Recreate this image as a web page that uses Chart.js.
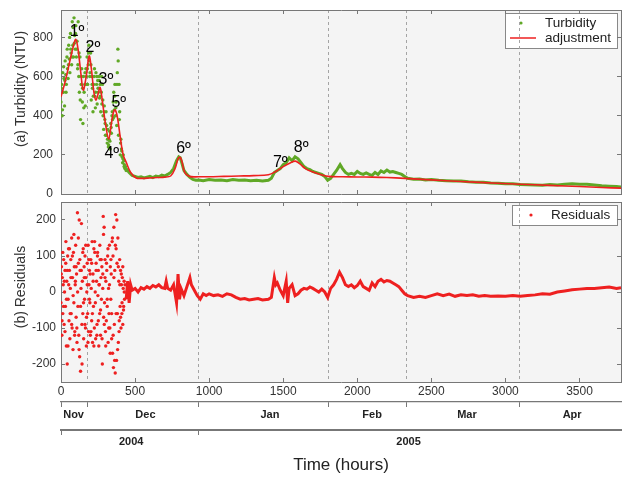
<!DOCTYPE html>
<html>
<head>
<meta charset="utf-8">
<script src="https://cdn.jsdelivr.net/npm/chart.js@4"></script>
<style>
  body { margin: 0; background: #fff; }
  #wrap { position: relative; width: 625px; height: 477px; }
  #topChart { position: absolute; left: 0; top: 0; }
  #bottomChart { position: absolute; left: 0; top: 196px; }
</style>
</head>
<body>
<div id="wrap">
  <canvas id="topChart" width="625" height="200"></canvas>
  <canvas id="bottomChart" width="625" height="281"></canvas>
</div>
<script>
// hours axis range and tick values
const xMin = 0, xMax = 3780;
const hourTicks = [0, 500, 1000, 1500, 2000, 2500, 3000, 3500];
const turbTicks = [0, 200, 400, 600, 800];
const resTicks = [-200, -100, 0, 100, 200];

// month / year bands under the time axis
const monthNames = ["Nov", "Dec", "Jan", "Feb", "Mar", "Apr"];
const monthLabelHours = [85, 570, 1410, 2100, 2740, 3450];
const monthStartHours = [0, 181, 926, 1805, 2329, 3094];
const yearNames = ["2004", "2005"];
const yearLabelHours = [474, 2346];
const yearStartHours = [0, 926];

// turbidity, noisy first weeks (dots)
const turbScatterHours = [0,4,8,12,16,20,24,28,32,36,40,44,48,52,56,60,64,68,72,76,80,84,88,92,96,100,104,108,112,116,
  120,124,128,132,136,140,144,148,152,156,160,164,168,172,176,180,184,188,192,196,200,204,208,212,216,220,224,228,232,236,
  240,244,248,252,256,260,264,268,272,276,280,284,288,292,296,300,304,308,312,316,320,324,328,332,336,340,344,348,352,356,
  360,364,368,372,376,380,384,388,392,396,400,404,408,412,416,420,424,428,432,436,440];
const turbScatterValues = [470,560,400,620,520,590,450,680,610,560,700,640,590,760,690,620,820,720,660,880,
  760,700,900,810,740,860,700,780,640,880,600,520,700,380,560,640,470,360,600,520,
  560,450,640,600,700,560,660,760,680,620,720,480,600,540,420,560,600,500,440,620,
  560,460,580,520,600,490,560,420,520,460,560,400,330,450,380,300,420,350,260,330,
  240,280,320,230,360,310,400,380,470,520,430,560,400,470,350,620,740,300,560,420,
  200,280,230,190,160,200,170,150,130,140,120];
const turbScatter2Hours = [2,10,18,26,34,42,50,58,66,74,82,90,98,106,114,122,130,138,146,154,162,170,178,186,194,202,210,
  218,226,234,242,250,258,266,274,282,290,298,306,314,322,330,338,346,354,362,370,378,386,394,402,410,418,426,434];
const turbScatter2Values = [540,430,650,580,520,740,660,800,740,700,850,770,820,740,660,720,480,600,540,440,620,560,640,720,600,660,560,
  500,640,520,600,540,580,500,600,480,420,360,300,280,250,270,340,420,390,500,440,560,680,380,260,220,180,140,130];

// turbidity, dense record afterwards (drawn as a thick trace)
const turbLineHours = [440,460,480,500,520,540,560,580,600,620,640,660,680,700,720,740,760,780,795,805,815,830,850,870,890,910,930,960,
  1000,1040,1080,1120,1160,1200,1240,1280,1320,1360,1400,1420,1440,1460,1480,1500,1520,1540,1560,1580,1600,1620,1640,1660,1680,1700,
  1720,1740,1760,1780,1800,1820,1840,1860,1884,1900,1920,1940,1960,1980,2000,2020,2040,2060,2080,2100,2120,2140,2160,2180,2200,2220,
  2240,2260,2280,2300,2320,2340,2380,2420,2460,2500,2550,2600,2650,2700,2750,2800,2850,2900,2950,3000,3050,3100,3150,3200,3250,3300,
  3350,3400,3450,3500,3550,3600,3650,3700,3750,3780];
const turbLineValues = [130,110,95,90,85,88,82,86,90,84,92,88,96,92,100,110,130,170,190,185,160,120,100,85,75,70,72,68,
  74,70,72,68,74,70,72,68,70,66,70,80,110,120,130,150,160,185,170,190,180,160,140,130,125,115,
  110,105,100,90,70,80,100,120,150,130,110,100,105,100,115,105,100,108,100,95,110,100,118,110,122,112,
  115,110,105,100,90,80,75,76,72,74,70,68,66,66,62,60,60,56,55,52,52,48,47,46,45,48,
  46,50,52,50,50,46,42,40,38,36];

// fitted adjustment
const adjHours = [0,30,60,85,100,115,135,150,170,190,205,222,235,250,264,280,300,322,340,355,365,380,400,420,441,470,508,
  550,600,650,700,740,770,790,803,815,835,866,930,1000,1100,1200,1300,1400,1450,1500,1550,1582,1610,1650,1700,1750,1805,
  1900,2000,2100,2200,2320,2500,2700,2946,3100,3300,3500,3650,3780];
const adjValues = [497,580,680,760,790,740,610,530,600,705,640,520,480,510,545,470,360,280,360,420,430,395,290,200,160,110,82,
  80,82,84,86,92,130,180,188,170,110,90,88,88,90,92,94,98,115,140,160,168,155,130,112,100,90,
  88,87,86,84,80,72,64,55,50,44,38,33,30];

// peak numbering
const peakNames = ["1º", "2º", "3º", "4º", "5º", "6º", "7º", "8º"];
const peakHours = [108, 215, 303, 343, 390, 827, 1480, 1621];
const peakValues = [831, 749, 585, 205, 467, 231, 159, 236];

// residuals, noisy first weeks (dots)
const resScatterHours = [0,3,6,9,12,15,18,21,24,27,30,33,36,39,42,45,48,51,54,57,60,63,66,69,72,75,78,81,84,87,
  90,93,96,99,102,105,108,111,114,117,120,123,126,129,132,135,138,141,144,147,150,153,156,159,162,165,168,171,174,177,
  180,183,186,189,192,195,198,201,204,207,210,213,216,219,222,225,228,231,234,237,240,243,246,249,252,255,258,261,264,267,
  270,273,276,279,282,285,288,291,294,297,300,303,306,309,312,315,318,321,324,327,330,333,336,339,342,345,348,351,354,357,
  360,363,366,369,372,375,378,381,384,387,390,393,396,399,402,405,408,411,414,417,420,423,426,429,432];
const resScatterValues = [-30,70,-120,40,-60,20,90,-90,0,60,-40,140,-150,30,-200,100,-20,120,-80,60,
  -130,10,90,-60,150,-100,40,-160,110,-30,70,-110,20,130,-70,50,-140,220,-40,80,
  -120,200,-180,60,-220,10,190,-90,30,-60,120,-130,70,-20,100,-100,40,-150,0,80,
  -60,130,-110,20,60,-30,-120,90,10,-80,140,-140,50,-40,120,-100,110,0,-130,80,
  30,-90,100,-10,60,-150,20,-60,90,-120,40,-20,70,-200,50,210,-70,180,-30,90,
  -110,30,-80,60,-40,100,-140,10,-60,130,-100,70,-20,50,-130,140,-170,100,-210,180,
  -90,60,-225,215,120,-190,80,-60,150,-140,30,-80,90,-40,60,-100,20,-60,40,-90,
  10,-40,30,-20,20];
const resScatter2Hours = [2,7,12,17,22,27,32,37,42,47,52,57,62,67,72,77,82,87,92,97,102,107,112,117,122,127,132,137,142,147,
  152,157,162,167,172,177,182,187,192,197,202,207,212,217,222,227,232,237,242,247,252,257,262,267,272,277,282,287,292,297,
  302,307,312,317,322,327,332,337,342,347,352,357,362,367,372,377,382,387,392,397,402,407,412,417,422,427];
const resScatter2Values = [50,-80,110,-40,30,-110,80,-20,60,-150,20,120,-60,40,-90,100,-10,160,-120,30,
  70,-100,0,150,-160,90,-40,60,-200,110,-30,40,-90,130,-70,20,-140,90,-20,50,
  -110,80,-60,30,-150,140,-30,60,-120,110,-80,20,130,-50,90,-130,10,160,-90,40,
  -150,80,-20,120,-100,20,-170,90,-60,150,-120,40,-190,130,-60,200,-160,70,-110,20,
  -70,50,-30,70,-50,0];

// residuals afterwards (thick trace)
const resLineHours = [440,450,460,470,480,500,520,540,560,580,600,620,640,660,680,700,710,720,740,760,780,790,800,810,830,850,870,880,
  900,920,940,960,980,1000,1030,1060,1090,1120,1150,1180,1210,1240,1270,1300,1330,1360,1400,1420,1440,1450,1460,1480,1500,1520,
  1530,1540,1560,1580,1600,1620,1640,1660,1680,1700,1720,1740,1760,1780,1800,1820,1840,1860,1880,1900,1920,1940,1960,1980,
  2000,2020,2040,2060,2080,2100,2120,2140,2160,2180,2200,2220,2240,2260,2280,2300,2320,2340,2380,2420,2460,2500,2540,2580,
  2620,2660,2700,2740,2780,2820,2860,2900,2950,3000,3050,3100,3150,3200,3250,3300,3350,3400,3450,3500,3550,3600,3650,3700,
  3750,3780];
const resLineValues = [-20,30,-30,20,5,10,0,12,8,15,10,18,14,20,12,10,30,10,5,20,-30,50,-20,10,-10,15,40,20,
  5,-10,-20,-5,-10,-5,-10,-8,-12,-5,-8,-15,-20,-18,-22,-20,-18,-22,-20,-15,40,20,25,5,-10,30,
  -30,10,20,-10,-5,5,10,8,14,10,5,0,8,0,-15,10,20,35,55,40,20,15,20,12,
  18,30,15,10,5,25,15,30,35,28,32,30,25,20,15,5,-5,-10,-15,-12,-15,-10,-5,-10,
  -6,-12,-8,-10,-8,-12,-10,-12,-11,-12,-10,-12,-10,-8,-5,-6,0,3,6,8,10,10,12,14,
  10,12];

const GREEN = "rgb(96,168,38)";
const RED = "rgb(238,32,32)";
const FRAME = "#777";
const FONT = '"Liberation Sans", Arial, sans-serif';

Chart.defaults.font.family = FONT;
Chart.defaults.color = "#333";

function pts(xs, ys) {
  return xs.map((x, i) => ({ x: x, y: ys[i] }));
}

function setTicks(values) {
  return s => { s.ticks = values.map(v => ({ value: v })); };
}

// fixed box sizes, no label overhang padding
function fixSize(w, h) {
  return s => {
    if (w !== null) s.width = w;
    if (h !== null) s.height = h;
    s.paddingTop = 0; s.paddingBottom = 0; s.paddingLeft = 0; s.paddingRight = 0;
  };
}

// plot background and boxed legend
const plotBg = {
  id: "plotBg",
  beforeDraw(chart, args, o) {
    const a = chart.chartArea, ctx = chart.ctx;
    ctx.save();
    ctx.fillStyle = "#f4f4f4";
    ctx.fillRect(a.left, a.top, a.right - a.left, a.bottom - a.top);
    if (o.legend) drawLegend(chart, o.legend);
    ctx.restore();
  }
};

function drawLegend(chart, o) {
  const a = chart.chartArea, ctx = chart.ctx;
  const x = Math.round(a.right - o.right - o.width), y = Math.round(a.top + o.top);
  const h = o.items.length * o.rowHeight + o.pad;
  ctx.fillStyle = "#fff";
  ctx.fillRect(x, y, o.width, h);
  ctx.strokeStyle = "#888";
  ctx.lineWidth = 1;
  ctx.strokeRect(x + 0.5, y + 0.5, o.width, h);
  ctx.font = "13.5px " + FONT;
  ctx.textBaseline = "middle";
  o.items.forEach((it, i) => {
    const ds = chart.data.datasets[it.dataset];
    const cy = y + o.pad / 2 + o.rowHeight * (i + 0.5);
    if (it.kind === "dot") {
      ctx.fillStyle = ds.backgroundColor;
      ctx.beginPath();
      ctx.arc(x + o.markX, cy, 1.6, 0, 2 * Math.PI);
      ctx.fill();
    } else {
      ctx.strokeStyle = ds.borderColor;
      ctx.lineWidth = 1.5;
      ctx.beginPath();
      ctx.moveTo(x + o.lineX0, cy);
      ctx.lineTo(x + o.lineX1, cy);
      ctx.stroke();
    }
    ctx.fillStyle = "#222";
    ctx.fillText(ds.label, x + o.textX, cy);
  });
}

// peak numbers and rotated side label
const extras = {
  id: "extras",
  afterDatasetsDraw(chart, args, o) {
    const ctx = chart.ctx;
    ctx.save();
    if (o.peaks) {
      const xs = chart.scales.x, ys = chart.scales.y;
      ctx.font = "16px " + FONT;
      ctx.fillStyle = "#000";
      ctx.textAlign = "center";
      ctx.textBaseline = "middle";
      peakNames.forEach((t, i) => {
        ctx.fillText(t, xs.getPixelForValue(peakHours[i]), ys.getPixelForValue(peakValues[i]));
      });
    }
    ctx.translate(o.sideX, o.sideY);
    ctx.rotate(-Math.PI / 2);
    ctx.font = "14px " + FONT;
    ctx.fillStyle = "#333";
    ctx.textAlign = "center";
    ctx.textBaseline = "middle";
    ctx.fillText(o.side, 0, 0);
    ctx.restore();
  }
};

function hourAxis(showLabels, h) {
  return {
    type: "linear", position: "bottom", min: xMin, max: xMax, weight: 0,
    afterFit: fixSize(null, h),
    afterBuildTicks: setTicks(hourTicks),
    ticks: { display: showLabels, autoSkip: false, maxRotation: 0,
      padding: 6.5, font: { size: 12 }, color: "#333", callback: v => String(v) },
    grid: { drawOnChartArea: false, tickLength: -4, tickColor: FRAME },
    border: { color: FRAME }
  };
}

function topMirror() {
  return {
    type: "linear", position: "top", min: xMin, max: xMax,
    afterFit: fixSize(null, 0),
    afterBuildTicks: setTicks(hourTicks),
    ticks: { display: false },
    grid: { drawOnChartArea: false, tickLength: -4, tickColor: FRAME },
    border: { color: FRAME }
  };
}

function dashAxis() {
  return {
    type: "linear", position: "bottom", min: xMin, max: xMax, weight: 9,
    afterFit: fixSize(null, 0),
    afterBuildTicks: setTicks(monthStartHours.slice(1)),
    ticks: { display: false },
    grid: { drawTicks: false, color: "#a4a4a4", lineWidth: 1 },
    border: { display: false, dash: [3, 3] }
  };
}

function bandAxis(starts, centers, names, weight, h, pad, bw, title) {
  return {
    type: "linear", position: "bottom", min: xMin, max: xMax, weight: weight,
    afterFit: fixSize(null, h),
    afterBuildTicks: setTicks(starts.concat(centers).sort((a, b) => a - b)),
    ticks: {
      autoSkip: false, maxRotation: 0, padding: pad, color: "#222",
      font: { size: 11, weight: "bold" },
      callback: v => { const i = centers.indexOf(v); return i < 0 ? "" : names[i]; }
    },
    grid: {
      drawOnChartArea: false, tickLength: 5,
      tickColor: c => (c.tick && starts.includes(c.tick.value)) ? FRAME : "rgba(0,0,0,0)"
    },
    border: { color: FRAME, width: bw },
    title: title || { display: false }
  };
}

function yAxis(min, max, ticks, pad) {
  return {
    type: "linear", position: "left", min: min, max: max,
    afterFit: fixSize(61, null),
    afterBuildTicks: setTicks(ticks),
    ticks: { padding: pad, font: { size: 12 }, color: "#333", callback: v => String(v) },
    grid: { drawOnChartArea: false, tickLength: -4, tickColor: FRAME },
    border: { color: FRAME }
  };
}

function yMirror(min, max, ticks) {
  return {
    type: "linear", position: "right", min: min, max: max,
    afterFit: fixSize(0, null),
    afterBuildTicks: setTicks(ticks),
    ticks: { display: false },
    grid: { drawOnChartArea: false, tickLength: -4, tickColor: FRAME },
    border: { color: FRAME }
  };
}

const topChart = new Chart(document.getElementById("topChart"), {
  type: "scatter",
  data: {
    datasets: [
      { label: "Turbidity",
        data: pts(turbScatterHours.concat(turbScatter2Hours), turbScatterValues.concat(turbScatter2Values)),
        backgroundColor: GREEN, borderWidth: 0, pointRadius: 1.7, order: 2 },
      { label: "Turbidity", data: pts(turbLineHours, turbLineValues), borderColor: GREEN, backgroundColor: GREEN,
        showLine: true, borderWidth: 3, pointRadius: 0, order: 3 },
      { label: "adjustment", data: pts(adjHours, adjValues), borderColor: RED, backgroundColor: RED,
        showLine: true, borderWidth: 1.6, pointRadius: 0, tension: 0.35, order: 1 }
    ]
  },
  options: {
    responsive: false, animation: false, events: [], devicePixelRatio: 1,
    layout: { padding: { left: 0, right: 2, top: 10, bottom: 0 } },
    scales: {
      x: hourAxis(false, 6),
      xTop: topMirror(),
      xDash: dashAxis(),
      y: yAxis(0, 940, turbTicks, 12),
      yRight: yMirror(0, 940, turbTicks)
    },
    plugins: {
      legend: { display: false },
      tooltip: { enabled: false },
      plotBg: { legend: { width: 112, top: 3, right: 4, rowHeight: 15, pad: 5, markX: 16, lineX0: 5, lineX1: 31, textX: 40,
        items: [{ dataset: 0, kind: "dot" }, { dataset: 2, kind: "line" }] } },
      extras: { peaks: true, side: "(a) Turbidity (NTU)", sideX: 21, sideY: 89 }
    }
  },
  plugins: [plotBg, extras]
});

const bottomChart = new Chart(document.getElementById("bottomChart"), {
  type: "scatter",
  data: {
    datasets: [
      { label: "Residuals",
        data: pts(resScatterHours.concat(resScatter2Hours), resScatterValues.concat(resScatter2Values)),
        backgroundColor: RED, borderWidth: 0, pointRadius: 1.7 },
      { label: "Residuals", data: pts(resLineHours, resLineValues), borderColor: RED, backgroundColor: RED,
        showLine: true, borderWidth: 3, pointRadius: 0 }
    ]
  },
  options: {
    responsive: false, animation: false, events: [], devicePixelRatio: 1,
    layout: { padding: { left: 0, right: 2, top: 6, bottom: 0 } },
    scales: {
      x: hourAxis(true, 20),
      xMonth: bandAxis(monthStartHours, monthLabelHours, monthNames, 1, 28, 1.4, 1.2),
      xYear: bandAxis(yearStartHours, yearLabelHours, yearNames, 2, 47, 0, 2,
        { display: true, text: "Time (hours)", color: "#222", font: { size: 17 }, padding: { top: 0, bottom: 1 } }),
      xTop: topMirror(),
      xDash: dashAxis(),
      y: yAxis(-250, 250, resTicks, 9),
      yRight: yMirror(-250, 250, resTicks)
    },
    plugins: {
      legend: { display: false },
      tooltip: { enabled: false },
      plotBg: { legend: { width: 105, top: 3, right: 4, rowHeight: 15, pad: 5, markX: 19, lineX0: 5, lineX1: 31, textX: 39,
        items: [{ dataset: 0, kind: "dot" }] } },
      extras: { peaks: false, side: "(b) Residuals", sideX: 21, sideY: 91 }
    }
  },
  plugins: [plotBg, extras]
});
</script>
</body>
</html>
